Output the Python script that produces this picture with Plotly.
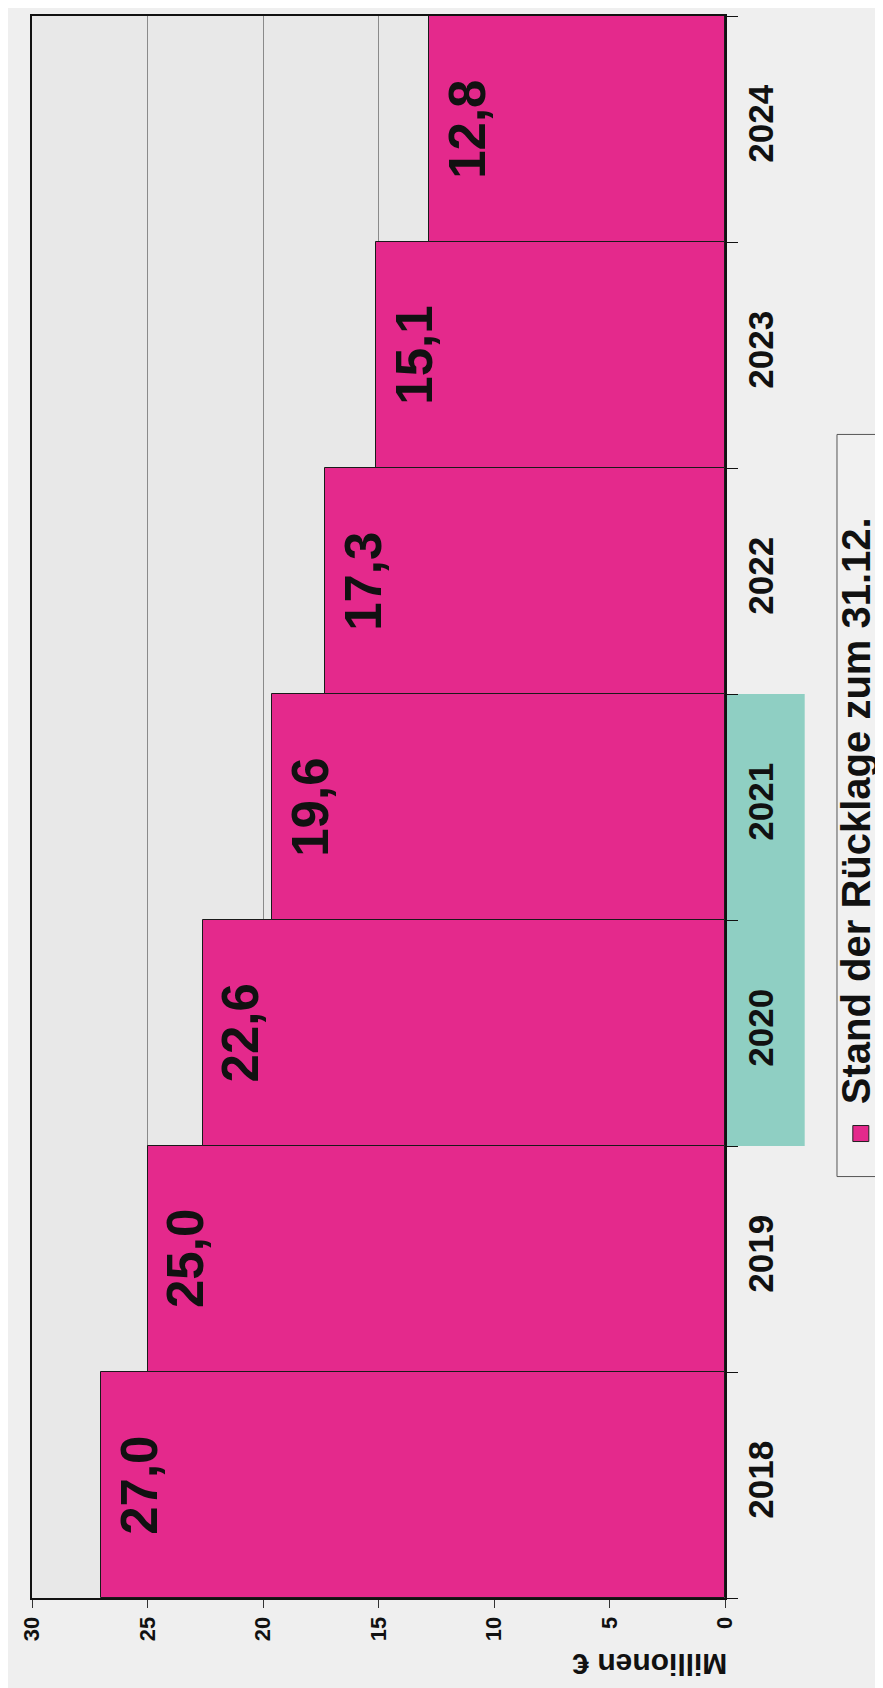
import plotly.graph_objects as go

years = ["2018", "2019", "2020", "2021", "2022", "2023", "2024"]
values = [27.0, 25.0, 22.6, 19.6, 17.3, 15.1, 12.8]
value_ticks = [0, 5, 10, 15, 20, 25, 30]
legend_label = "Stand der Rücklage zum 31.12."
axis_title = "Millionen €"

PINK = "#e4298c"
TEAL = "#8fcfc3"
FONT = "Liberation Sans"

fig = go.Figure()
fig.add_trace(go.Bar(
    x=values, y=years, orientation="h",
    marker=dict(color=PINK, line=dict(color="#1a1a1a", width=1)),
    width=1.0, showlegend=False, hoverinfo="skip",
))

# value labels on bars (rotated); category index used as y position
for i, v in enumerate(values):
    fig.add_annotation(
        x=v, y=i, xref="x", yref="y",
        text=f"{v:.1f}".replace(".", ","),
        textangle=-90, showarrow=False,
        xanchor="left", yanchor="middle", xshift=7,
        font=dict(family=FONT, size=51, color="#111111", weight="bold"),
    )

# axis title (upside down as in the rotated scan)
fig.add_annotation(
    x=0.892, y=-0.0417, xref="paper", yref="paper",
    text=axis_title, textangle=180, showarrow=False,
    xanchor="center", yanchor="middle",
    font=dict(family=FONT, size=30, color="#111111", weight="bold"),
)

# teal highlight behind 2020/2021 labels
fig.add_shape(type="rect", xref="paper", yref="paper",
              x0=1.0, x1=1.115, y0=2/7, y1=4/7,
              fillcolor=TEAL, line=dict(width=0), layer="below")

# legend box
fig.add_shape(type="rect", xref="paper", yref="paper",
              x0=1.1616, x1=1.30, y0=0.2664, y1=0.7355,
              fillcolor="#f1f1f1", line=dict(color="#555555", width=1), layer="below")
fig.add_shape(type="rect", xref="paper", yref="paper",
              xsizemode="pixel", ysizemode="pixel",
              xanchor=1.196, yanchor=0.2936,
              x0=-8, x1=8, y0=-8, y1=8,
              fillcolor=PINK, line=dict(color="#222222", width=1))
fig.add_annotation(
    x=1.19, y=0.311, xref="paper", yref="paper",
    text=legend_label, textangle=-90, showarrow=False,
    xanchor="center", yanchor="bottom",
    font=dict(family=FONT, size=40, color="#111111", weight="bold"),
)

fig.update_layout(
    width=883, height=1688,
    margin=dict(l=24, r=166, t=6, b=98),
    paper_bgcolor="#efefef", plot_bgcolor="#e8e8e8",
    bargap=0,
    xaxis=dict(
        range=[30, 0], tickvals=value_ticks, ticktext=[str(t) for t in value_ticks],
        tickangle=-90, ticks="outside", ticklen=8, tickcolor="#333333",
        ticklabelstandoff=0,
        showgrid=True, gridcolor="#8a8a8a", gridwidth=1, zeroline=False,
        showline=True, linecolor="#111111", linewidth=2, mirror=True,
        tickfont=dict(family=FONT, size=22, color="#111111", weight="bold"),
    ),
    yaxis=dict(
        type="category", categoryorder="array", categoryarray=years,
        range=[-0.5, len(years) - 0.5],
        side="right", tickangle=-90, ticks="outside", ticklen=11,
        tickson="boundaries", tickcolor="#111111", ticklabelstandoff=4,
        showgrid=False, showline=True, linecolor="#111111", linewidth=1.5, mirror=True,
        tickfont=dict(family=FONT, size=35, color="#111111", weight="bold"),
    ),
)

fig.write_html("out.html")
